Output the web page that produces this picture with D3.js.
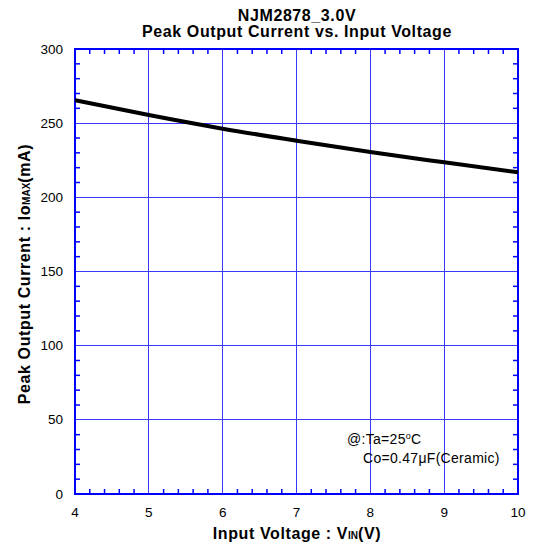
<!DOCTYPE html>
<html><head><meta charset="utf-8">
<script src="https://cdn.jsdelivr.net/npm/d3@7"></script>
<style>body{margin:0;background:#fff}svg{display:block}text{font-family:"Liberation Sans",Arial,sans-serif}</style>
</head><body><svg id="c" width="536" height="550"></svg>
<script>
const voltage = [4, 5, 6, 7, 8, 9, 10];
const peakCurrent = [265.5, 255.5, 246.3, 238.2, 230.5, 223.6, 216.9];
const xTicks = [4, 5, 6, 7, 8, 9, 10];
const yTicks = [0, 50, 100, 150, 200, 250, 300];

const svg = d3.select("#c");
const L = 75, R = 518, T = 49, B = 494;
const x = d3.scaleLinear().domain([4, 10]).range([L, R]);
const y = d3.scaleLinear().domain([0, 300]).range([B, T]);
const blue = "#0000ff";

// grid
svg.append("g").attr("shape-rendering", "crispEdges").selectAll("line").data(xTicks.slice(1, -1)).join("line")
  .attr("x1", d => x(d)).attr("x2", d => x(d)).attr("y1", T).attr("y2", B)
  .attr("stroke", "#3a3aff").attr("stroke-width", 1);
svg.append("g").attr("shape-rendering", "crispEdges").selectAll("line").data(yTicks.slice(1, -1)).join("line")
  .attr("y1", d => y(d)).attr("y2", d => y(d)).attr("x1", L).attr("x2", R)
  .attr("stroke", "#3a3aff").attr("stroke-width", 1);

// minor ticks
const xMinor = d3.range(4, 10.001, 0.2).filter(v => Math.abs(v - Math.round(v)) > 1e-6);
const yMinor = d3.range(0, 300.001, 10).filter(v => v % 50 !== 0);
const tl = 5;
const mt = svg.append("g").attr("stroke", blue).attr("stroke-width", 1.5);
xMinor.forEach(v => {
  mt.append("line").attr("x1", x(v)).attr("x2", x(v)).attr("y1", B).attr("y2", B - tl);
  mt.append("line").attr("x1", x(v)).attr("x2", x(v)).attr("y1", T).attr("y2", T + tl);
});
yMinor.forEach(v => {
  mt.append("line").attr("y1", y(v)).attr("y2", y(v)).attr("x1", L).attr("x2", L + tl);
  mt.append("line").attr("y1", y(v)).attr("y2", y(v)).attr("x1", R).attr("x2", R - tl);
});

// frame
svg.append("rect").attr("x", L).attr("y", T).attr("width", R - L).attr("height", B - T)
  .attr("fill", "none").attr("stroke", blue).attr("stroke-width", 2);

// tick labels
svg.append("g").selectAll("text").data(xTicks).join("text")
  .attr("x", d => x(d)).attr("y", 517).attr("text-anchor", "middle")
  .attr("font-size", 13.5).text(d => d);
svg.append("g").selectAll("text").data(yTicks).join("text")
  .attr("x", 63).attr("y", d => y(d) + 4.5).attr("text-anchor", "end")
  .attr("font-size", 13.5).text(d => d);

// curve
svg.append("path").datum(voltage.map((v, i) => [v, peakCurrent[i]]))
  .attr("d", d3.line().x(d => x(d[0])).y(d => y(d[1])).curve(d3.curveMonotoneX))
  .attr("fill", "none").attr("stroke", "#000").attr("stroke-width", 4);

// titles
const tstyle = s => s.attr("font-size", 16).attr("font-weight", "bold").attr("letter-spacing", 0.6);
tstyle(svg.append("text").attr("x", 297).attr("y", 21).attr("text-anchor", "middle")).text("NJM2878_3.0V");
tstyle(svg.append("text").attr("x", 297).attr("y", 37).attr("text-anchor", "middle")).text("Peak Output Current vs. Input Voltage");

const xt = tstyle(svg.append("text").attr("x", 297).attr("y", 539).attr("text-anchor", "middle"));
xt.append("tspan").text("Input Voltage : V");
xt.append("tspan").attr("font-size", 10).attr("letter-spacing", 0).text("IN");
xt.append("tspan").text("(V)");

const yt = tstyle(svg.append("text").attr("transform", "translate(30,274) rotate(-90)").attr("text-anchor", "middle"));
yt.append("tspan").text("Peak Output Current : Io");
yt.append("tspan").attr("font-size", 10).attr("letter-spacing", 0).text("MAX");
yt.append("tspan").text("(mA)");

// annotation
const a1 = svg.append("text").attr("x", 347).attr("y", 444).attr("font-size", 14).attr("letter-spacing", 0.3);
a1.append("tspan").text("@:Ta=25");
a1.append("tspan").attr("font-size", 9).attr("dy", -5).text("o");
a1.append("tspan").attr("dy", 5).text("C");
svg.append("text").attr("x", 363).attr("y", 463).attr("font-size", 14).attr("letter-spacing", 0.3).text("Co=0.47μF(Ceramic)");
</script></body></html>
